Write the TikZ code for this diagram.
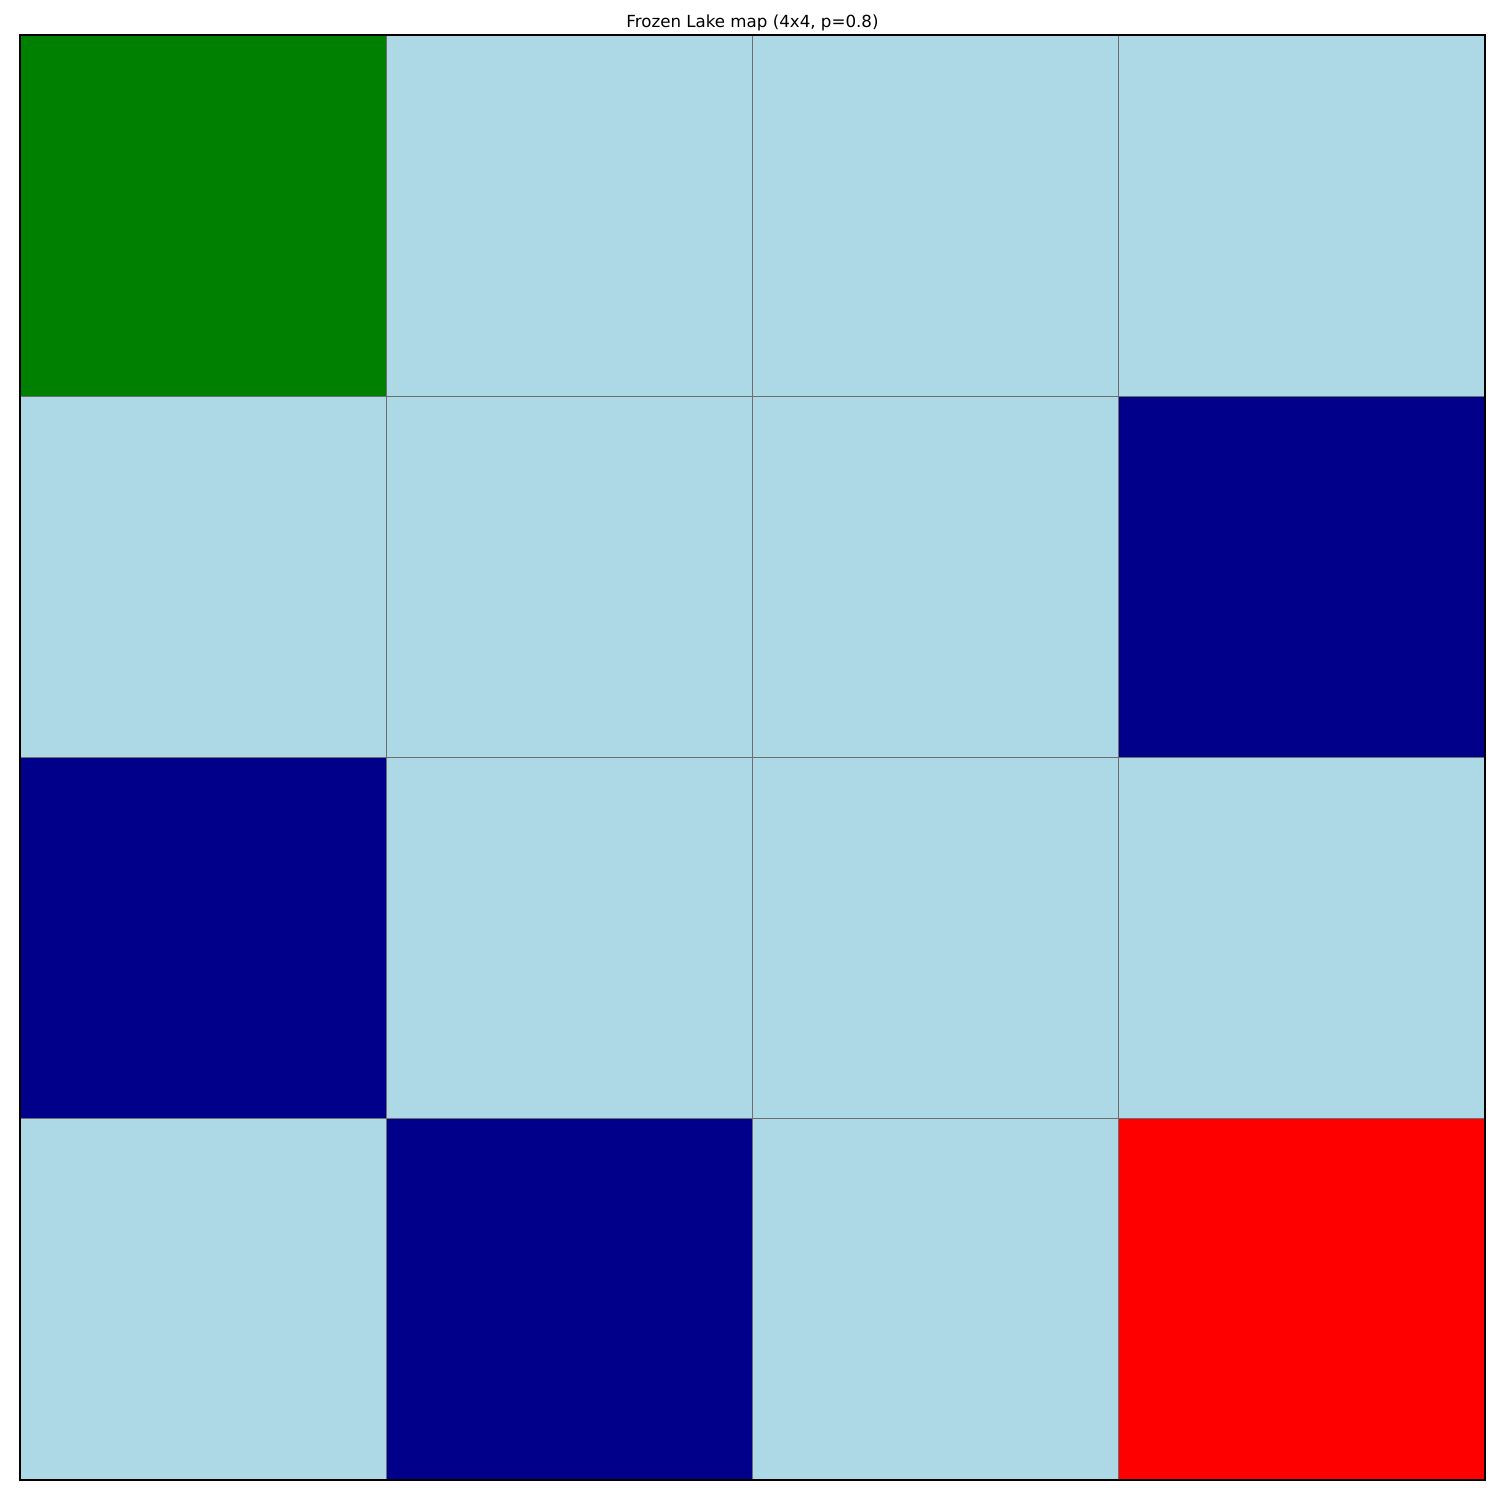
\documentclass[tikz,border=0pt]{standalone}
\usepackage{fontspec}
\setmainfont{DejaVu Sans}
\definecolor{ice}{HTML}{ADD8E6}
\definecolor{hole}{HTML}{00008B}
\definecolor{start}{HTML}{008000}
\definecolor{goal}{HTML}{FF0000}
\definecolor{gridc}{HTML}{6E6E6E}
\tikzset{
  cell/.style={draw=gridc, line width=0.9pt, minimum width=366.25pt, minimum height=361.25pt, inner sep=0pt, outer sep=0pt, anchor=north west},
  titletext/.style={font=\fontsize{16.67}{20}\selectfont, inner sep=0pt}
}
\begin{document}
\begin{tikzpicture}[x=1pt,y=-1pt]
\useasboundingbox (0,0) rectangle (1500,1500);
\fill[white] (0,0) rectangle (1500,1500);
\node[titletext, anchor=base] (title) at (752.5,27.5) {Frozen Lake map (4x4, p=0.8)};
% row 0
\node[cell, fill=start] (c00) at (20,35) {};
\node[cell, fill=ice]   (c01) at (386.25,35) {};
\node[cell, fill=ice]   (c02) at (752.5,35) {};
\node[cell, fill=ice]   (c03) at (1118.75,35) {};
% row 1
\node[cell, fill=ice]   (c10) at (20,396.25) {};
\node[cell, fill=ice]   (c11) at (386.25,396.25) {};
\node[cell, fill=ice]   (c12) at (752.5,396.25) {};
\node[cell, fill=hole]  (c13) at (1118.75,396.25) {};
% row 2
\node[cell, fill=hole]  (c20) at (20,757.5) {};
\node[cell, fill=ice]   (c21) at (386.25,757.5) {};
\node[cell, fill=ice]   (c22) at (752.5,757.5) {};
\node[cell, fill=ice]   (c23) at (1118.75,757.5) {};
% row 3
\node[cell, fill=ice]   (c30) at (20,1118.75) {};
\node[cell, fill=hole]  (c31) at (386.25,1118.75) {};
\node[cell, fill=ice]   (c32) at (752.5,1118.75) {};
\node[cell, fill=goal]  (c33) at (1118.75,1118.75) {};
% frame
\draw[black, line width=1.3pt] (c00.north west) rectangle (c33.south east);
\end{tikzpicture}
\end{document}
